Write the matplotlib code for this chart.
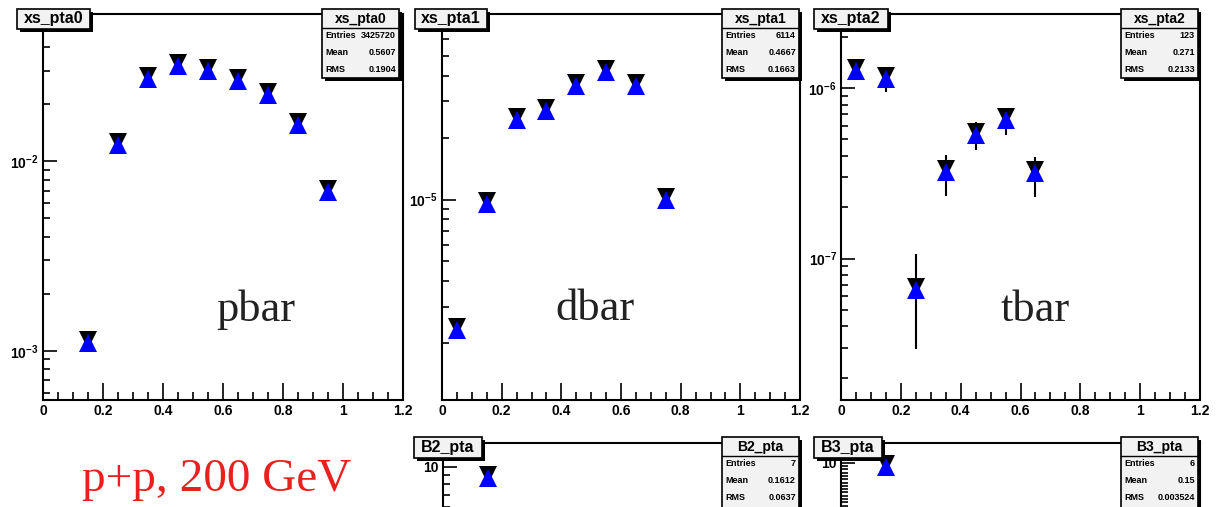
import matplotlib
matplotlib.use('Agg')
import numpy as np
import matplotlib.pyplot as plt
import matplotlib.transforms as mtransforms
from matplotlib.patches import Rectangle
from matplotlib.lines import Line2D
from matplotlib.ticker import (FixedLocator, FuncFormatter, LogLocator,
                               MultipleLocator, NullFormatter)

plt.rcParams['font.family'] = ['Liberation Sans', 'DejaVu Sans']
plt.rcParams['mathtext.fontset'] = 'custom'
plt.rcParams['mathtext.bf'] = 'Liberation Sans:bold'
plt.rcParams['mathtext.rm'] = 'Liberation Sans:bold'

W, H = 1216, 507

# ---- data ----
x_pta0 = [0.15, 0.25, 0.35, 0.45, 0.55, 0.65, 0.75, 0.85, 0.95]
y_pta0 = [1.10e-3, 1.22e-2, 2.72e-2, 3.18e-2, 2.99e-2, 2.65e-2, 2.23e-2, 1.55e-2, 6.93e-3]

x_pta1 = [0.05, 0.15, 0.25, 0.35, 0.45, 0.55, 0.65, 0.75]
y_pta1 = [2.32e-6, 9.55e-6, 2.43e-5, 2.68e-5, 3.56e-5, 4.16e-5, 3.56e-5, 1.00e-5]

x_pta2 = [0.05, 0.15, 0.25, 0.35, 0.45, 0.55, 0.65]
y_pta2 = [1.26e-6, 1.13e-6, 6.57e-8, 3.21e-7, 5.29e-7, 6.49e-7, 3.18e-7]
lo_pta2 = [1.20e-6, 9.47e-7, 2.96e-8, 2.32e-7, 4.31e-7, 5.29e-7, 2.29e-7]
hi_pta2 = [1.32e-6, 1.28e-6, 1.06e-7, 4.04e-7, 6.31e-7, 7.43e-7, 3.93e-7]

x_b2 = [0.15]
y_b2 = [8.65]
x_b3 = [0.15]
y_b3 = [9.988]

hist_names = ['xs_pta0', 'xs_pta1', 'xs_pta2', 'B2_pta', 'B3_pta']
hist_entries = ['3425720', '6114', '123', '7', '6']
hist_means = ['0.5607', '0.4667', '0.271', '0.1612', '0.15']
hist_rms = ['0.1904', '0.1663', '0.2133', '0.0637', '0.003524']
species = ['pbar', 'dbar', 'tbar']
system_label = 'p+p, 200 GeV'


fig = plt.figure(figsize=(W / 100, H / 100), dpi=100)


def add_frame(l, t, r, b):
    return fig.add_axes([l / W, 1 - b / H, (r - l) / W, (b - t) / H])


def fig_rect(x0, y0, x1, y1, **kw):
    fig.add_artist(Rectangle((x0 / W, 1 - y1 / H), (x1 - x0) / W, (y1 - y0) / H,
                             transform=fig.transFigure, **kw))


def shadow_box(x0, y0, x1, y1, s=3):
    fig_rect(x0 + s, y0 + s, x1 + s, y1 + s, facecolor='black', edgecolor='none', zorder=3)
    fig_rect(x0, y0, x1, y1, facecolor='#f2f2f2', edgecolor='black', linewidth=1.2, zorder=4)


def title_box(x0, y0, x1, y1, name):
    shadow_box(x0, y0, x1, y1)
    fig.text((x0 + x1) / 2 / W, 1 - (y0 + y1) / 2 / H, name, ha='center', va='center',
             fontsize=11.5, fontweight='bold', zorder=5)


def stat_box(x0, y0, x1, y1, i):
    shadow_box(x0, y0, x1, y1)
    fig.add_artist(Line2D([x0 / W, x1 / W], [1 - (y0 + 19) / H] * 2, color='black',
                          linewidth=1.0, transform=fig.transFigure, zorder=5))
    fig.text((x0 + x1) / 2 / W, 1 - (y0 + 9.5) / H, hist_names[i], ha='center', va='center',
             fontsize=10, fontweight='bold', zorder=5)
    rows = [('Entries', hist_entries[i]), ('Mean', hist_means[i]), ('RMS', hist_rms[i])]
    for k, (lab, val) in enumerate(rows):
        yy = 1 - (y0 + 26 + 17.5 * k) / H
        fig.text((x0 + 3) / W, yy, lab, ha='left', va='center', fontsize=6.5,
                 fontweight='bold', zorder=5)
        fig.text((x1 - 3) / W, yy, val, ha='right', va='center', fontsize=6.5,
                 fontweight='bold', zorder=5)


def sci_label(v, pos):
    e = int(round(np.log10(v)))
    return r'$\mathbf{10^{%d}}$' % e


def style_axes(ax, logy=True, xlabels=True):
    for sp in ax.spines.values():
        sp.set_linewidth(1.5)
    ax.set_xlim(0, 1.2)
    ax.xaxis.set_major_locator(MultipleLocator(0.2))
    ax.xaxis.set_minor_locator(MultipleLocator(0.05))
    ax.xaxis.set_major_formatter(FuncFormatter(lambda v, p: '%g' % round(v, 2)))
    ax.tick_params(axis='both', which='both', direction='in', top=False, right=False,
                   width=1.2, labelsize=10, labelbottom=xlabels)
    ax.tick_params(axis='x', which='major', length=12, pad=3)
    ax.tick_params(axis='x', which='minor', length=6)
    ax.tick_params(axis='y', which='major', length=10, pad=3)
    ax.tick_params(axis='y', which='minor', length=5)
    for lab in ax.get_xticklabels() + ax.get_yticklabels():
        lab.set_fontweight('bold')
    if logy:
        ax.set_yscale('log')
        ax.yaxis.set_major_locator(LogLocator(base=10))
        ax.yaxis.set_minor_locator(LogLocator(base=10, subs=range(2, 10)))
        ax.yaxis.set_minor_formatter(NullFormatter())


def draw_points(ax, x, y, lo=None, hi=None):
    if lo is not None:
        ax.vlines(x, lo, hi, color='black', linewidth=1.5, zorder=2)
    up = mtransforms.offset_copy(ax.transData, fig=fig, x=0, y=3, units='dots')
    ax.plot(x, y, linestyle='none', marker='v', markersize=13.5, color='black',
            markeredgewidth=0, transform=up, zorder=3)
    ax.plot(x, y, linestyle='none', marker='^', markersize=13.5, color='#0000ff',
            markeredgewidth=0, zorder=4)


# ---- top row ----
top_frames = [(43, 14, 403, 400), (442, 14, 800, 400), (841, 14, 1200, 400)]
top_ylims = [(5.5e-4, 6.0e-2), (1.06e-6, 7.98e-5), (1.48e-8, 2.72e-6)]
top_x = [x_pta0, x_pta1, x_pta2]
top_y = [y_pta0, y_pta1, y_pta2]
title_boxes = [(17, 9, 90, 29), (415, 9, 487, 29), (814, 9, 888, 29)]
stat_boxes = [(322, 9, 399, 78), (722, 9, 799, 78), (1121, 9, 1198, 78)]
species_pos = [(256, 321), (595, 320), (1035, 321)]

for i in range(3):
    ax = add_frame(*top_frames[i])
    style_axes(ax)
    ax.set_ylim(*top_ylims[i])
    ax.yaxis.set_major_formatter(FuncFormatter(sci_label))
    if i == 2:
        draw_points(ax, top_x[i], top_y[i], lo_pta2, hi_pta2)
    else:
        draw_points(ax, top_x[i], top_y[i])
    title_box(*title_boxes[i], hist_names[i])
    stat_box(*stat_boxes[i], i)
    fig.text(species_pos[i][0] / W, 1 - species_pos[i][1] / H, species[i],
             ha='center', va='baseline', fontsize=32, color='#222222',
             family=['Liberation Serif', 'DejaVu Serif'])

# ---- bottom row (cut off by the canvas edge) ----
ax2 = add_frame(443, 443, 800, 828)
style_axes(ax2, xlabels=False)
ax2.set_ylim(0.098, 13.55)
ax2.yaxis.set_major_locator(FixedLocator([10.0]))
ax2.yaxis.set_major_formatter(FuncFormatter(lambda v, p: '%g' % v))
draw_points(ax2, x_b2, y_b2)
title_box(414, 437, 482, 458, hist_names[3])
stat_box(722, 437, 799, 520, 3)

ax3 = add_frame(841, 443, 1200, 828)
style_axes(ax3, logy=False, xlabels=False)
ax3.set_ylim(8.893, 10.06)
ax3.yaxis.set_major_locator(FixedLocator([10.0]))
ax3.yaxis.set_minor_locator(MultipleLocator(0.01))
ax3.yaxis.set_major_formatter(FuncFormatter(lambda v, p: '%g' % v))
draw_points(ax3, x_b3, y_b3)
title_box(814, 437, 882, 458, hist_names[4])
stat_box(1121, 437, 1198, 520, 4)

fig.text(82 / W, 1 - 491 / H, system_label, ha='left', va='baseline', fontsize=34,
         color='#e8211f', family=['Liberation Serif', 'DejaVu Serif'])

fig.savefig('out.png', dpi=100)
